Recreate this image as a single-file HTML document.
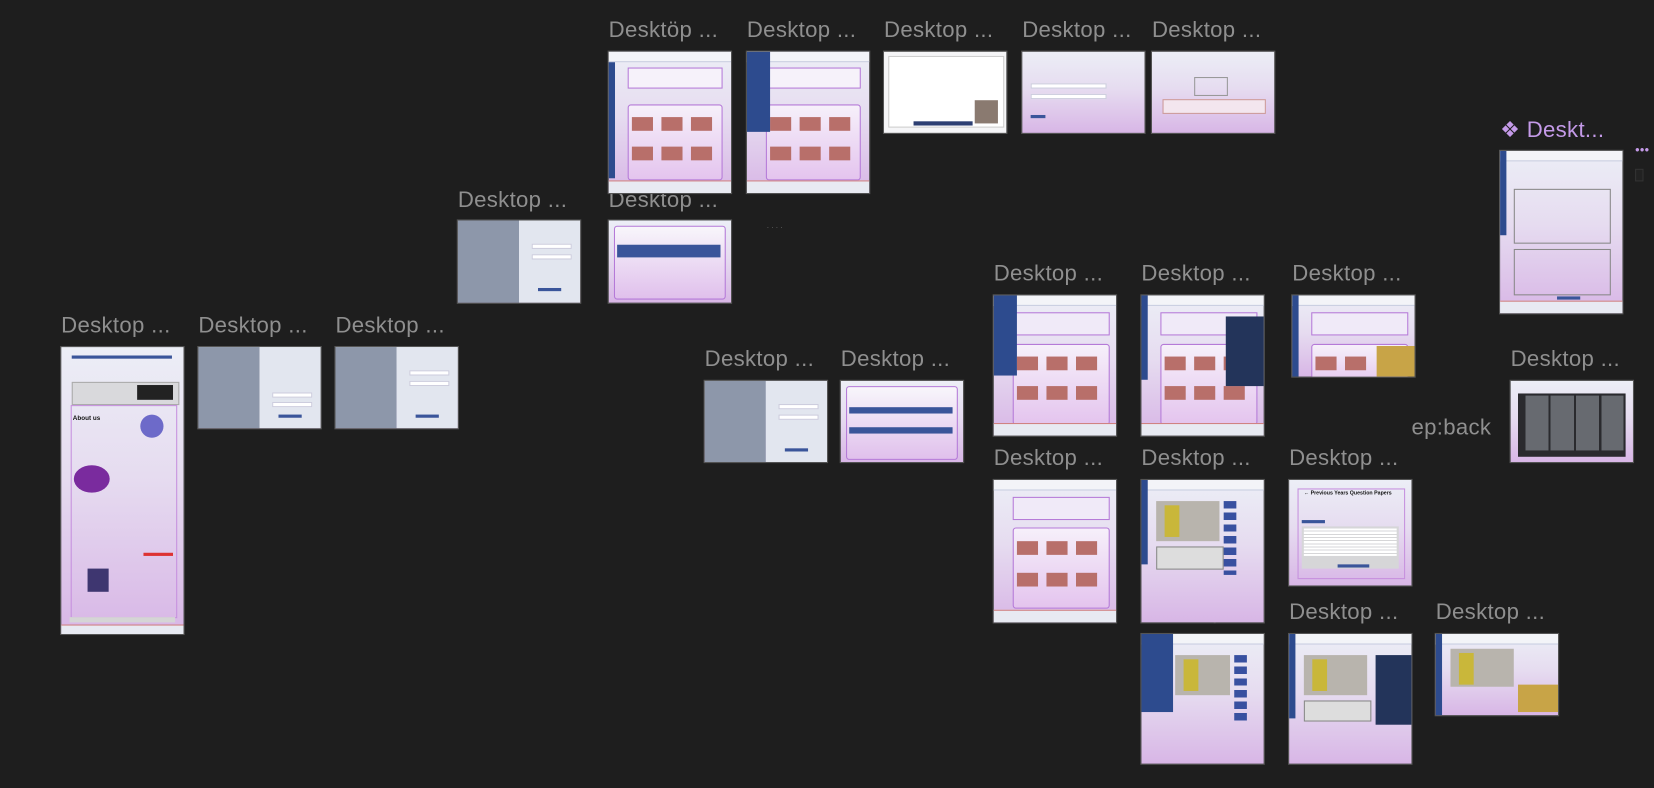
<!DOCTYPE html>
<html><head><meta charset="utf-8"><style>
html,body{margin:0;padding:0;background:#1e1e1e;width:1654px;height:788px;overflow:hidden}
#w{position:absolute;left:0;top:0;width:1568px;height:747px;transform:scale(1.0549);transform-origin:0 0}
.l{position:absolute;font-family:"Liberation Sans",sans-serif;font-size:21px;color:#8f8f8f;white-space:nowrap;letter-spacing:0.3px}
.f{position:absolute;background:linear-gradient(#eceef6 0%,#e6dcf0 45%,#d8b6e6 100%);overflow:hidden;outline:1px solid #555}
.in{position:absolute;border:1px solid #b57ad8;border-radius:3px;background:linear-gradient(#f6f0fa,#e4c4ee)}
.hd{position:absolute;left:0;top:0;right:0;height:9px;background:#f3f4f8;border-bottom:1px solid #c8cde0}
.ft{position:absolute;left:0;bottom:0;right:0;height:11px;background:#e8eaf2;border-top:1px solid #d08080}
.sb{position:absolute;left:0;top:0;width:6px;bottom:0;background:#2d4b8e}
.th{position:absolute;width:20px;height:13px;background:#b86f6a}
.lg{position:absolute;left:0;top:0;bottom:0;width:50%;background:#8d97aa}
.rg{position:absolute;right:0;top:0;bottom:0;width:50%;background:#e2e6ef}
.in2{position:absolute;height:3px;background:#fff;border:1px solid #ccd}
.btn{position:absolute;height:3px;background:#3a559a}
.dk{position:absolute;background:#23345a}
</style></head><body><div id="w">

<div class="l" style="left:58px;top:297px">Desktop ...</div>
<div class="l" style="left:188px;top:297px">Desktop ...</div>
<div class="l" style="left:318px;top:297px">Desktop ...</div>
<div class="l" style="left:434px;top:178px">Desktop ...</div>
<div class="l" style="left:577px;top:17px">Desktöp ...</div>
<div class="l" style="left:577px;top:178px">Desktop ...</div>
<div class="l" style="left:708px;top:17px">Desktop ...</div>
<div class="l" style="left:838px;top:17px">Desktop ...</div>
<div class="l" style="left:969px;top:17px">Desktop ...</div>
<div class="l" style="left:1092px;top:17px">Desktop ...</div>
<div class="l" style="left:668px;top:329px">Desktop ...</div>
<div class="l" style="left:797px;top:329px">Desktop ...</div>
<div class="l" style="left:942px;top:248px">Desktop ...</div>
<div class="l" style="left:1082px;top:248px">Desktop ...</div>
<div class="l" style="left:1225px;top:248px">Desktop ...</div>
<div class="l" style="left:942px;top:423px">Desktop ...</div>
<div class="l" style="left:1082px;top:423px">Desktop ...</div>
<div class="l" style="left:1222px;top:423px">Desktop ...</div>
<div class="l" style="left:1082px;top:569px">Desktop ...</div>
<div class="l" style="left:1222px;top:569px">Desktop ...</div>
<div class="l" style="left:1361px;top:569px">Desktop ...</div>
<div class="l" style="left:1432px;top:329px">Desktop ...</div>
<div class="l" style="left:1422px;top:111px;color:#c49ae8">❖ Deskt...</div>
<div class="l" style="left:1550px;top:135px;color:#c49ae8;font-size:12px">•••</div>
<div class="l" style="left:1338px;top:394px">ep:back</div>
<div class="l" style="left:727px;top:213px;font-size:6px;color:#999">· · · ·</div>

<div class="f" style="left:58px;top:329px;width:116px;height:272px">
 <div style="position:absolute;left:10px;top:8px;width:95px;height:3px;background:#3a559a"></div>
 <div style="position:absolute;left:10px;top:33px;width:100px;height:20px;background:#d9d9dc;border:1px solid #aaa"></div>
 <div style="position:absolute;left:72px;top:36px;width:34px;height:14px;background:#222"></div>
 <div style="position:absolute;left:9px;top:55px;width:99px;height:200px;border:1px solid #c690de"></div>
 <div style="position:absolute;left:11px;top:65px;font:bold 6px 'Liberation Sans',sans-serif;color:#111">About us</div>
 <div style="position:absolute;left:75px;top:64px;width:22px;height:22px;border-radius:50%;background:#6d6ac9"></div>
 <div style="position:absolute;left:12px;top:112px;width:34px;height:26px;border-radius:50%;background:#7a2b9e"></div>
 <div style="position:absolute;left:78px;top:195px;width:28px;height:3px;background:#d33"></div>
 <div style="position:absolute;left:25px;top:210px;width:20px;height:22px;background:#3e3670"></div>
 <div style="position:absolute;left:8px;top:256px;width:100px;height:5px;background:#d5d5d5"></div>
 <div class="ft" style="height:8px"></div>
</div>
<div class="f" style="left:188px;top:329px;width:116px;height:77px"><div class="lg"></div><div class="rg"></div><div class="in2" style="left:70px;top:43px;width:36px"></div><div class="in2" style="left:70px;top:52px;width:36px"></div><div class="btn" style="left:76px;top:64px;width:22px"></div></div>
<div class="f" style="left:318px;top:329px;width:116px;height:77px"><div class="lg"></div><div class="rg"></div><div class="in2" style="left:70px;top:22px;width:36px"></div><div class="in2" style="left:70px;top:32px;width:36px"></div><div class="btn" style="left:76px;top:64px;width:22px"></div></div>
<div class="f" style="left:434px;top:209px;width:116px;height:78px"><div class="lg"></div><div class="rg"></div><div class="in2" style="left:70px;top:22px;width:36px"></div><div class="in2" style="left:70px;top:32px;width:36px"></div><div class="btn" style="left:76px;top:64px;width:22px"></div></div>
<div class="f" style="left:668px;top:361px;width:116px;height:77px"><div class="lg"></div><div class="rg"></div><div class="in2" style="left:70px;top:22px;width:36px"></div><div class="in2" style="left:70px;top:32px;width:36px"></div><div class="btn" style="left:76px;top:64px;width:22px"></div></div>

<div class="f" style="left:577px;top:49px;width:116px;height:134px"><div class="hd"></div><div class="sb" style="top:10px;height:110px"></div>
 <div style="position:absolute;left:18px;top:15px;width:88px;height:18px;background:#f6f2fa;border:1px solid #b57ad8"></div>
 <div class="in" style="left:18px;top:50px;width:88px;height:70px"></div>
 <div class="th" style="left:22px;top:62px"></div><div class="th" style="left:50px;top:62px"></div><div class="th" style="left:78px;top:62px"></div>
 <div class="th" style="left:22px;top:90px"></div><div class="th" style="left:50px;top:90px"></div><div class="th" style="left:78px;top:90px"></div>
 <div class="ft"></div></div>
<div class="f" style="left:708px;top:49px;width:116px;height:134px"><div class="hd"></div>
 <div style="position:absolute;left:18px;top:15px;width:88px;height:18px;background:#f6f2fa;border:1px solid #b57ad8"></div>
 <div class="in" style="left:18px;top:50px;width:88px;height:70px"></div>
 <div class="th" style="left:22px;top:62px"></div><div class="th" style="left:50px;top:62px"></div><div class="th" style="left:78px;top:62px"></div>
 <div class="th" style="left:22px;top:90px"></div><div class="th" style="left:50px;top:90px"></div><div class="th" style="left:78px;top:90px"></div>
 <div class="dk" style="left:0;top:0;width:22px;height:76px;background:#2d4b8e"></div>
 <div class="ft"></div></div>

<div class="f" style="left:577px;top:209px;width:116px;height:78px"><div class="in" style="left:5px;top:5px;width:104px;height:68px;background:linear-gradient(#f8f6fb,#e0c0ec)"></div><div style="position:absolute;left:8px;top:23px;width:98px;height:12px;background:#3a559a"></div></div>
<div class="f" style="left:797px;top:361px;width:116px;height:77px"><div class="in" style="left:5px;top:5px;width:104px;height:68px;background:linear-gradient(#f8f6fb,#e0c0ec)"></div><div style="position:absolute;left:8px;top:25px;width:98px;height:6px;background:#3a559a"></div><div style="position:absolute;left:8px;top:44px;width:98px;height:6px;background:#3a559a"></div></div>

<div class="f" style="left:838px;top:49px;width:116px;height:77px;background:#f5f5f7"><div style="position:absolute;left:4px;top:4px;width:108px;height:66px;border:1px solid #ccc;background:#fff"></div><div style="position:absolute;left:86px;top:46px;width:22px;height:22px;background:#8a7a70"></div><div style="position:absolute;left:28px;top:66px;width:56px;height:4px;background:#2d3f72"></div></div>
<div class="f" style="left:969px;top:49px;width:116px;height:77px"><div class="in2" style="left:8px;top:30px;width:70px"></div><div class="in2" style="left:8px;top:40px;width:70px"></div><div class="btn" style="left:8px;top:60px;width:14px"></div></div>
<div class="f" style="left:1092px;top:49px;width:116px;height:77px"><div style="position:absolute;left:10px;top:45px;width:96px;height:12px;border:1px solid #c99;background:#f3e6ee"></div><div style="position:absolute;left:40px;top:24px;width:30px;height:16px;border:1px solid #999"></div></div>

<div class="f" style="left:942px;top:280px;width:116px;height:133px"><div class="hd"></div>
 <div style="position:absolute;left:18px;top:16px;width:90px;height:20px;border:1px solid #b57ad8;background:#f0eaf8"></div>
 <div class="in" style="left:18px;top:46px;width:90px;height:75px"></div>
 <div class="th" style="left:22px;top:58px"></div><div class="th" style="left:50px;top:58px"></div><div class="th" style="left:78px;top:58px"></div>
 <div class="th" style="left:22px;top:86px"></div><div class="th" style="left:50px;top:86px"></div><div class="th" style="left:78px;top:86px"></div>
 <div class="dk" style="left:0;top:0;width:22px;height:76px;background:#2d4b8e"></div><div class="ft"></div></div>
<div class="f" style="left:1082px;top:280px;width:116px;height:133px"><div class="hd"></div><div class="sb" style="height:80px"></div>
 <div style="position:absolute;left:18px;top:16px;width:90px;height:20px;border:1px solid #b57ad8;background:#f0eaf8"></div>
 <div class="in" style="left:18px;top:46px;width:90px;height:75px"></div>
 <div class="th" style="left:22px;top:58px"></div><div class="th" style="left:50px;top:58px"></div><div class="th" style="left:78px;top:58px"></div>
 <div class="th" style="left:22px;top:86px"></div><div class="th" style="left:50px;top:86px"></div><div class="th" style="left:78px;top:86px"></div>
 <div class="dk" style="left:80px;top:20px;width:36px;height:66px"></div><div class="ft"></div></div>
<div class="f" style="left:1225px;top:280px;width:116px;height:77px"><div class="hd"></div><div class="sb"></div>
 <div style="position:absolute;left:18px;top:16px;width:90px;height:20px;border:1px solid #b57ad8;background:#f0eaf8"></div>
 <div class="in" style="left:18px;top:46px;width:90px;height:40px"></div>
 <div class="th" style="left:22px;top:58px"></div><div class="th" style="left:50px;top:58px"></div>
 <div style="position:absolute;left:80px;top:48px;width:36px;height:29px;background:#c8a447"></div></div>

<div class="f" style="left:942px;top:455px;width:116px;height:135px"><div class="hd"></div>
 <div style="position:absolute;left:18px;top:16px;width:90px;height:20px;border:1px solid #b57ad8;background:#f0eaf8"></div>
 <div class="in" style="left:18px;top:45px;width:90px;height:75px"></div>
 <div class="th" style="left:22px;top:58px"></div><div class="th" style="left:50px;top:58px"></div><div class="th" style="left:78px;top:58px"></div>
 <div class="th" style="left:22px;top:88px"></div><div class="th" style="left:50px;top:88px"></div><div class="th" style="left:78px;top:88px"></div><div class="ft"></div></div>
<div class="f" style="left:1082px;top:455px;width:116px;height:135px"><div class="hd"></div><div class="sb" style="height:80px"></div>
 <div style="position:absolute;left:14px;top:20px;width:60px;height:38px;background:#b8b4ad"></div><div style="position:absolute;left:22px;top:24px;width:14px;height:30px;background:#c9b73a"></div>
 <div style="position:absolute;left:14px;top:63px;width:62px;height:20px;border:1px solid #888;background:#ddd"></div>
 <div style="position:absolute;left:78px;top:20px;height:70px;background:repeating-linear-gradient(#3850a0 0 7px,transparent 7px 11px);width:12px"></div></div>
<div class="f" style="left:1082px;top:601px;width:116px;height:123px"><div class="hd"></div>
 <div style="position:absolute;left:32px;top:20px;width:52px;height:38px;background:#b8b4ad"></div><div style="position:absolute;left:40px;top:24px;width:14px;height:30px;background:#c9b73a"></div>
 <div style="position:absolute;left:88px;top:20px;width:12px;height:62px;background:repeating-linear-gradient(#3850a0 0 7px,transparent 7px 11px)"></div>
 <div class="dk" style="left:0;top:0;width:30px;height:74px;background:#2d4b8e"></div></div>
<div class="f" style="left:1222px;top:601px;width:116px;height:123px"><div class="hd"></div><div class="sb" style="height:80px"></div>
 <div style="position:absolute;left:14px;top:20px;width:60px;height:38px;background:#b8b4ad"></div><div style="position:absolute;left:22px;top:24px;width:14px;height:30px;background:#c9b73a"></div>
 <div style="position:absolute;left:14px;top:63px;width:62px;height:18px;border:1px solid #888;background:#ddd"></div>
 <div class="dk" style="left:82px;top:20px;width:34px;height:66px"></div></div>
<div class="f" style="left:1361px;top:601px;width:116px;height:77px"><div class="hd"></div><div class="sb"></div>
 <div style="position:absolute;left:14px;top:14px;width:60px;height:36px;background:#b8b4ad"></div><div style="position:absolute;left:22px;top:18px;width:14px;height:30px;background:#c9b73a"></div>
 <div style="position:absolute;left:78px;top:48px;width:38px;height:26px;background:#c8a447"></div></div>

<div class="f" style="left:1222px;top:455px;width:116px;height:100px"><div style="position:absolute;left:8px;top:8px;width:100px;height:84px;border:1px solid #c690de"></div>
 <div style="position:absolute;left:14px;top:10px;font:bold 5px 'Liberation Sans',sans-serif;color:#111">← Previous Years Question Papers</div>
 <div class="btn" style="left:12px;top:38px;width:22px"></div>
 <div style="position:absolute;left:12px;top:44px;width:92px;height:40px;background:#d6d6d8"></div>
 <div style="position:absolute;left:14px;top:46px;width:88px;height:26px;background:repeating-linear-gradient(#fff 0 2px,#d6d6d8 2px 3px)"></div>
 <div class="btn" style="left:46px;top:80px;width:30px"></div></div>

<div class="f" style="left:1422px;top:143px;width:116px;height:154px"><div class="hd"></div><div class="sb" style="height:80px"></div>
 <div style="position:absolute;left:13px;top:36px;width:90px;height:50px;border:1px solid #888"></div>
 <div style="position:absolute;left:13px;top:93px;width:90px;height:42px;border:1px solid #888"></div>
 <div class="btn" style="left:54px;top:138px;width:22px"></div><div class="ft"></div></div>
<div style="position:absolute;left:1550px;top:160px;width:6px;height:10px;border:1px solid #333;background:#222"></div>

<div class="f" style="left:1432px;top:361px;width:116px;height:77px"><div style="position:absolute;left:7px;top:12px;width:102px;height:60px;background:#2a2a2e"></div>
 <div style="position:absolute;left:14px;top:14px;width:93px;height:52px;background:repeating-linear-gradient(90deg,#676a70 0 22px,#2a2a2e 22px 24px)"></div></div>

</div></body></html>
